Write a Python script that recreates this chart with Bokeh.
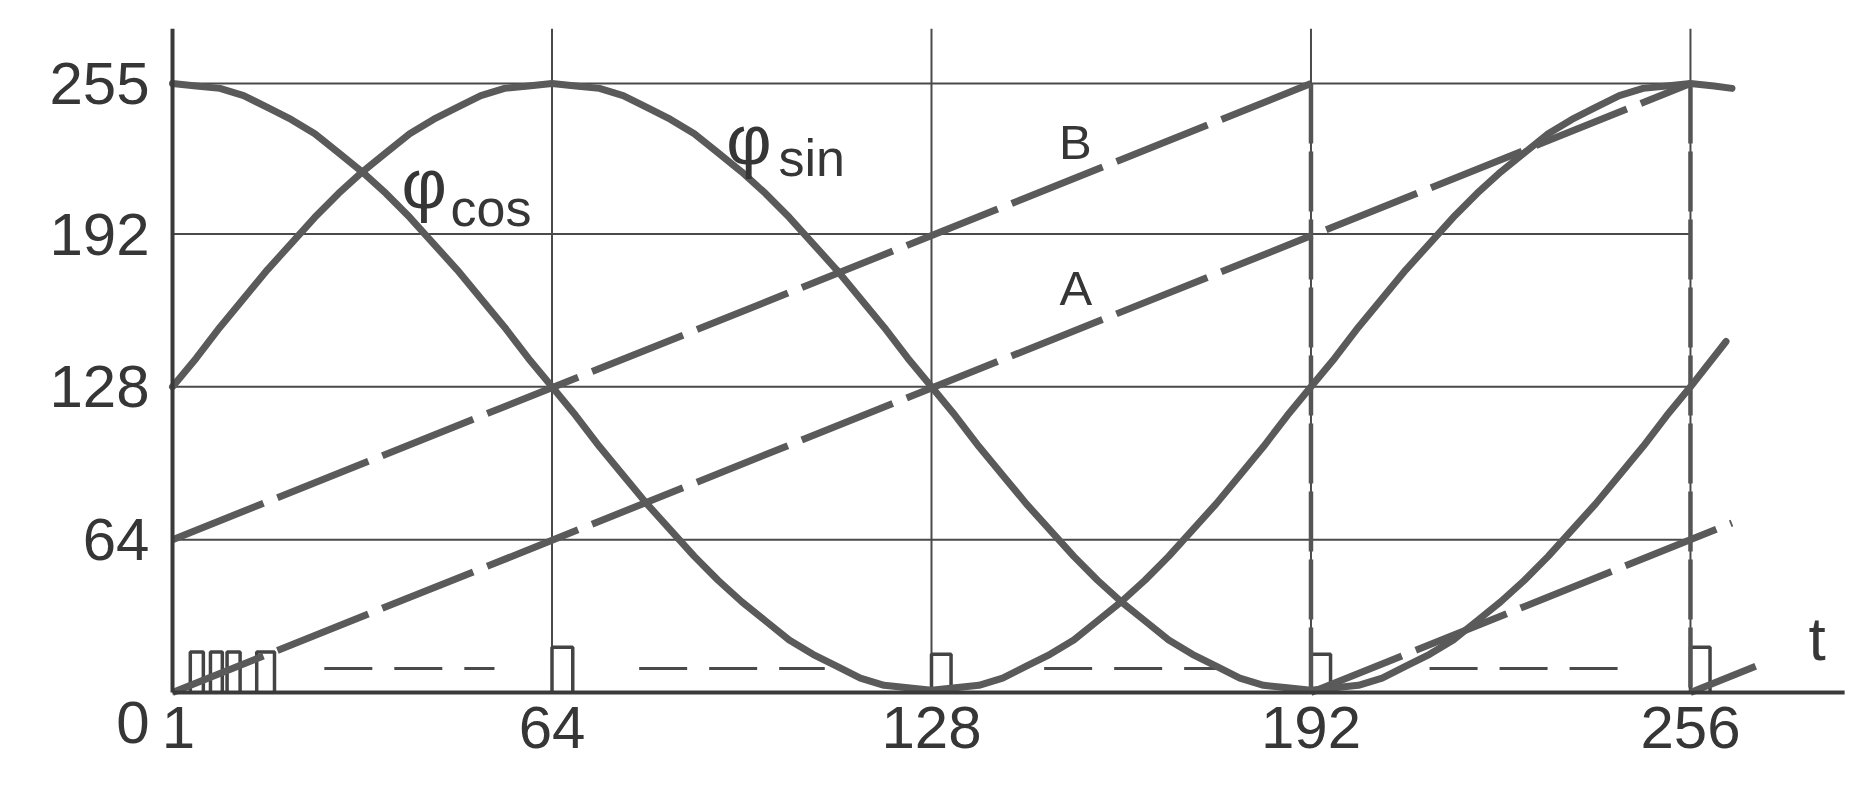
from bokeh.plotting import figure
from bokeh.models import Range1d, FixedTicker
from bokeh.core.properties import value
from bokeh.embed import file_html
from bokeh.resources import INLINE

# ---------------- data ----------------
x_ticks = [1, 64, 128, 192, 256]
y_ticks = [0, 64, 128, 192, 255]

t_cos = [0, 4, 8, 12, 16, 20, 24, 28, 32, 36, 40, 44, 48, 52, 56, 60, 64,
         68, 72, 76, 80, 84, 88, 92, 96, 100, 104, 108, 112, 116, 120, 124, 128,
         132, 136, 140, 144, 148, 152, 156, 160, 164, 168, 172, 176, 180, 184, 188, 192,
         196, 200, 204, 208, 212, 216, 220, 224, 228, 232, 236, 240, 244, 248, 252, 256,
         260, 263]
phi_cos = [255, 254, 253, 250, 245, 240, 234, 226, 218, 209, 199, 188, 177, 165, 153, 140, 128,
           116, 103, 91, 79, 68, 57, 47, 38, 30, 22, 16, 11, 6, 3, 2, 1,
           2, 3, 6, 11, 16, 22, 30, 38, 47, 57, 68, 79, 91, 103, 116, 128,
           140, 153, 165, 177, 188, 199, 209, 218, 226, 234, 240, 245, 250, 253, 254, 255,
           254, 253]

t_sin = [0, 4, 8, 12, 16, 20, 24, 28, 32, 36, 40, 44, 48, 52, 56, 60, 64,
         68, 72, 76, 80, 84, 88, 92, 96, 100, 104, 108, 112, 116, 120, 124, 128,
         132, 136, 140, 144, 148, 152, 156, 160, 164, 168, 172, 176, 180, 184, 188, 192,
         196, 200, 204, 208, 212, 216, 220, 224, 228, 232, 236, 240, 244, 248, 252, 256,
         262]
phi_sin = [128, 140, 153, 165, 177, 188, 199, 209, 218, 226, 234, 240, 245, 250, 253, 254, 255,
           254, 253, 250, 245, 240, 234, 226, 218, 209, 199, 188, 177, 165, 153, 140, 128,
           116, 103, 91, 79, 68, 57, 47, 38, 30, 22, 16, 11, 6, 3, 2, 1,
           2, 3, 6, 11, 16, 22, 30, 38, 47, 57, 68, 79, 91, 103, 116, 128,
           147]

# sawtooth phase A and B (dashed), with their wrap-arounds
saw_a_t = [0, 256]
saw_a_v = [0, 255]
saw_a_wrap_t = [256, 267]
saw_a_wrap_v = [0, 11]
saw_b_t = [0, 192]
saw_b_v = [64, 255]
saw_b_wrap_t = [192, 263]
saw_b_wrap_v = [0, 71]
drop_t = [192, 256]          # vertical drops of B and A
drop_top = 255

# pulses on the time axis
pulse_t = [3.0, 6.4, 9.2, 14.2, 64, 128, 192, 256]
pulse_w = [2.2, 2.0, 2.2, 3.0, 3.5, 3.3, 3.3, 3.3]
pulse_h = [17, 17, 17, 17, 19, 16, 16, 19]

# thin dashed threshold level
thr_start = [25.6, 78.7, 147, 212]
thr_end = [54.3, 110, 176.5, 245.3]
thr_level = 10

axis_top = 278
axis_right = 282

# annotations: (text, t, value, size)
labels_main = [("φ", 38.6, 213.0, "70px"), ("φ", 93.4, 231.5, "70px")]
labels_sub = [("cos", 46.9, 203.0, "52px"), ("sin", 102.2, 224.0, "52px")]
labels_ab = [("B", 149.5, 230.7, "49px"), ("A", 149.6, 169.5, "49px")]
label_t = ("t", 275.9, 22.5, "62px")

FONT = "Liberation Sans"
INK = "#363636"
GRID = "#4a4a4a"
CURVE = "#5a5a5a"

# ---------------- figure ----------------
p = figure(width=1872, height=786, output_backend="svg", toolbar_location=None,
           x_range=Range1d(-4.05, 286.7), y_range=Range1d(-2.512, 289.8),
           min_border_left=148, min_border_right=0, min_border_top=0, min_border_bottom=88,
           background_fill_color="white", border_fill_color="white")
p.outline_line_color = None
p.grid.visible = False

for ax in (p.xaxis[0], p.yaxis[0]):
    ax.axis_line_color = None
    ax.major_tick_line_color = None
    ax.minor_tick_line_color = None
    ax.major_tick_out = 0
    ax.major_tick_in = 0
    ax.major_label_text_font = FONT
    ax.major_label_text_font_size = "60px"
    ax.major_label_text_color = INK
p.xaxis[0].ticker = FixedTicker(ticks=x_ticks)
p.yaxis[0].ticker = FixedTicker(ticks=y_ticks)
# the origin label sits below-left of the origin
p.yaxis[0].major_label_overrides = {0: "\n0"}
p.yaxis[0].major_label_text_line_height = 0.9
p.xaxis[0].major_label_standoff = 8
p.yaxis[0].major_label_standoff = -1

gx = x_ticks[1:]
gy = y_ticks[1:]
# grid lines
p.segment(x0=gx, y0=[0] * len(gx), x1=gx, y1=[axis_top] * len(gx),
          line_color=GRID, line_width=2)
p.segment(x0=[0] * len(gy), y0=gy, x1=[x_ticks[-1]] * len(gy), y1=gy,
          line_color=GRID, line_width=2)

# pulses
pxs, pys = [], []
for s, w, h in zip(pulse_t, pulse_w, pulse_h):
    pxs.append([s, s, s + w, s + w])
    pys.append([0, h, h, 0])
p.multi_line(xs=pxs, ys=pys, line_color="#444444", line_width=3.5)

# threshold
p.segment(x0=thr_start, y0=[thr_level] * len(thr_start), x1=thr_end,
          y1=[thr_level] * len(thr_end), line_color=GRID, line_width=3, line_dash="48 22")

# drops of the sawtooth
p.segment(x0=drop_t, y0=[drop_top] * 2, x1=drop_t, y1=[0] * 2,
          line_color="#555555", line_width=4.5, line_dash="60 8")

# sawtooth lines
for xs, ys in ((saw_a_t, saw_a_v), (saw_b_t, saw_b_v),
               (saw_a_wrap_t, saw_a_wrap_v), (saw_b_wrap_t, saw_b_wrap_v)):
    p.line(xs, ys, line_color=CURVE, line_width=7, line_dash="98 15")

# phase curves
p.line(t_cos, phi_cos, line_color=CURVE, line_width=7, line_join="round", line_cap="round")
p.line(t_sin, phi_sin, line_color=CURVE, line_width=7, line_join="round", line_cap="round")

# axes lines
p.segment(x0=[0, 0], y0=[0, 0], x1=[0, axis_right], y1=[axis_top, 0],
          line_color="#3a3a3a", line_width=4)

# texts
for txt, tx, ty, fs in labels_main + labels_sub + labels_ab + [label_t]:
    p.text(x=[tx], y=[ty], text=[txt], text_font=value(FONT), text_font_size=fs,
           text_color=INK, text_align="left", text_baseline="alphabetic")

open("out.html", "w").write(file_html(p, INLINE))
